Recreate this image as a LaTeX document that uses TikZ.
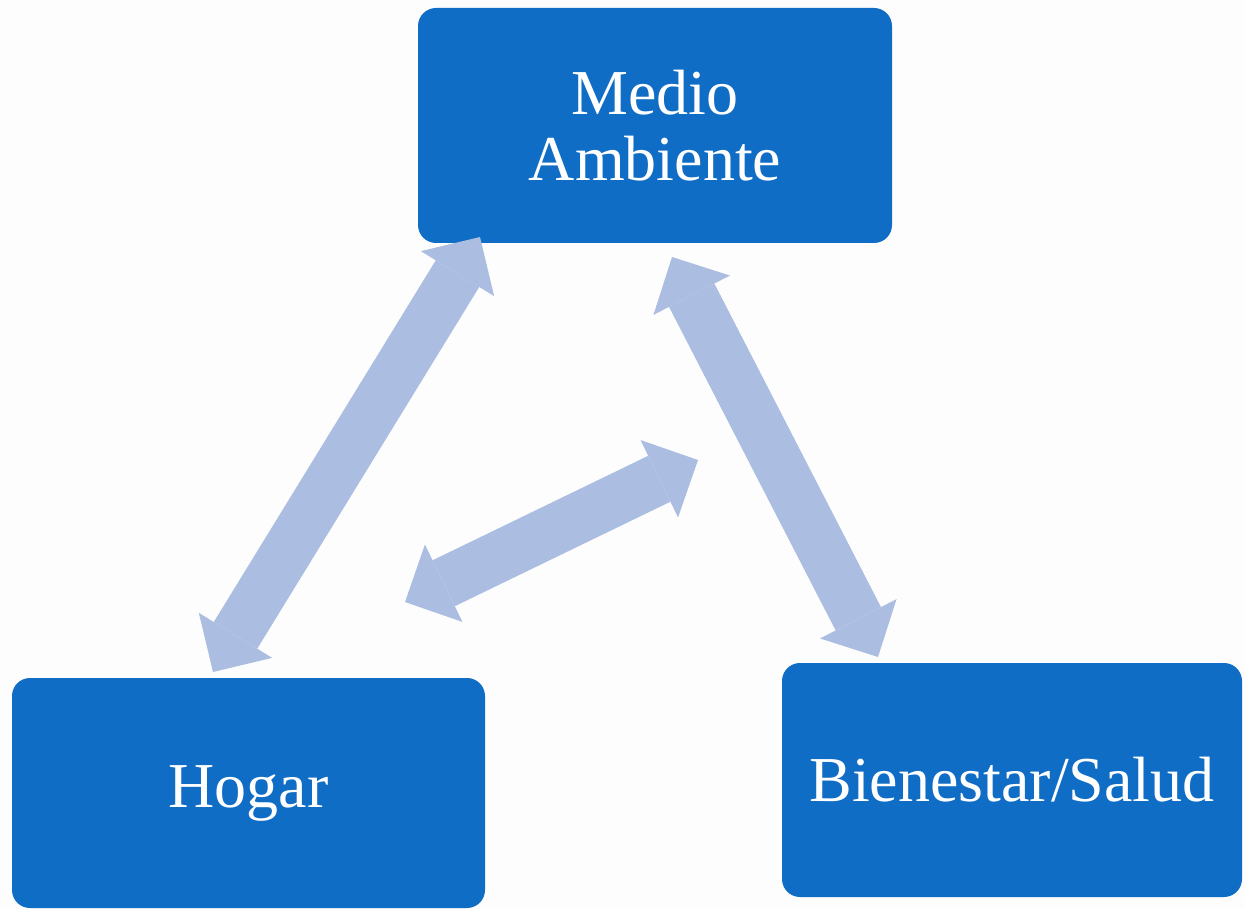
\documentclass[tikz,border=0pt]{standalone}
\usepackage{fontspec}
\setmainfont{Liberation Serif}
\usetikzlibrary{arrows.meta}
\definecolor{boxblue}{HTML}{0F6DC5}
\definecolor{arrowblue}{HTML}{ABBDE0}
\definecolor{bg}{HTML}{FDFDFD}
\begin{document}
\begin{tikzpicture}[x=1pt,y=-1pt,
  box/.style={fill=boxblue, text=white, rounded corners=18pt, inner sep=0pt,
    align=center, font=\fontsize{64}{66}\selectfont},
  dblarrow/.style={draw=arrowblue, line width=51pt,
    {Triangle[length=43pt,width=86pt,line width=0pt]}-{Triangle[length=43pt,width=86pt,line width=0pt]}}]
\fill[bg] (0,0) rectangle (1244,909);
\useasboundingbox (0,0) rectangle (1244,909);
\node[box, minimum width=474pt, minimum height=235pt] (medio) at (655,125.5) {Medio\\Ambiente};
\node[box, minimum width=473pt, minimum height=230pt] (hogar) at (248.5,793) {Hogar};
\node[box, minimum width=460pt, minimum height=234pt] (bien) at (1012,780) {Bienestar/Salud};
\coordinate (a1s) at (213,672);
\coordinate (a1e) at (480,237);
\coordinate (a2s) at (405,602);
\coordinate (a2e) at (698,460);
\coordinate (a3s) at (672,257);
\coordinate (a3e) at (878,657);
\draw[dblarrow] (a1s) -- (a1e);
\draw[dblarrow] (a2s) -- (a2e);
\draw[dblarrow] (a3s) -- (a3e);
\end{tikzpicture}
\end{document}
